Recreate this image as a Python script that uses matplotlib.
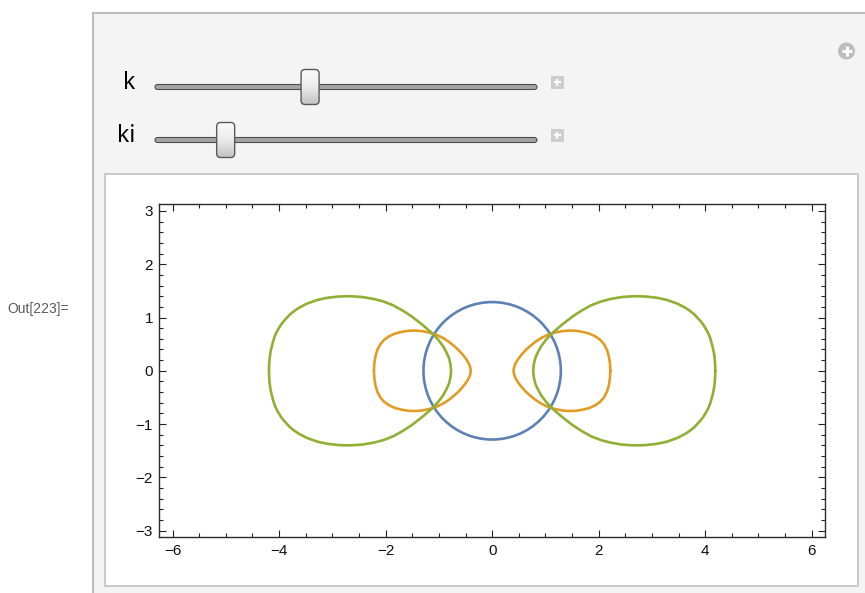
import numpy as np
import matplotlib.pyplot as plt
from matplotlib.colors import LinearSegmentedColormap
from matplotlib.patches import Circle, FancyBboxPatch, Rectangle
from matplotlib.ticker import MultipleLocator

plt.rcParams['font.family'] = ['Liberation Sans', 'DejaVu Sans']

# curves (data units)
circle_center = (0.0, 0.0)
circle_radius = 1.29

green_left_x = [-4.19, -4.187, -4.178, -4.162, -4.14, -4.095, -4.06, -4.02, -3.965, -3.91,
                -3.80, -3.72, -3.64, -3.49, -3.29, -3.08, -2.87, -2.66, -2.44, -2.23,
                -2.04, -1.86, -1.68, -1.51, -1.305, -1.11, -1.01, -0.92, -0.86, -0.81,
                -0.782, -0.77,
                -0.782, -0.81, -0.86, -0.92, -1.01, -1.11, -1.305, -1.51, -1.68, -1.86,
                -2.04, -2.23, -2.44, -2.66, -2.87, -3.08, -3.29, -3.49, -3.64, -3.72,
                -3.80, -3.91, -3.965, -4.02, -4.06, -4.095, -4.14, -4.162, -4.178, -4.187,
                -4.19]
green_left_y = [0.00, 0.12, 0.24, 0.35, 0.45, 0.61, 0.70, 0.775, 0.865, 0.935,
                1.055, 1.12, 1.175, 1.255, 1.328, 1.373, 1.395, 1.40, 1.385, 1.35,
                1.30, 1.23, 1.13, 1.02, 0.86, 0.69, 0.58, 0.46, 0.35, 0.24,
                0.12, 0.00,
                -0.12, -0.24, -0.35, -0.46, -0.58, -0.69, -0.86, -1.02, -1.13, -1.23,
                -1.30, -1.35, -1.385, -1.40, -1.395, -1.373, -1.328, -1.255, -1.175, -1.12,
                -1.055, -0.935, -0.865, -0.775, -0.70, -0.61, -0.45, -0.35, -0.24, -0.12,
                0.00]

green_right_x = [4.19, 4.187, 4.178, 4.162, 4.14, 4.095, 4.06, 4.02, 3.965, 3.91,
                 3.80, 3.72, 3.64, 3.49, 3.29, 3.08, 2.87, 2.66, 2.44, 2.23,
                 2.04, 1.86, 1.68, 1.51, 1.305, 1.11, 1.01, 0.92, 0.86, 0.81,
                 0.782, 0.77,
                 0.782, 0.81, 0.86, 0.92, 1.01, 1.11, 1.305, 1.51, 1.68, 1.86,
                 2.04, 2.23, 2.44, 2.66, 2.87, 3.08, 3.29, 3.49, 3.64, 3.72,
                 3.80, 3.91, 3.965, 4.02, 4.06, 4.095, 4.14, 4.162, 4.178, 4.187,
                 4.19]
green_right_y = [0.00, 0.12, 0.24, 0.35, 0.45, 0.61, 0.70, 0.775, 0.865, 0.935,
                 1.055, 1.12, 1.175, 1.255, 1.328, 1.373, 1.395, 1.40, 1.385, 1.35,
                 1.30, 1.23, 1.13, 1.02, 0.86, 0.69, 0.58, 0.46, 0.35, 0.24,
                 0.12, 0.00,
                 -0.12, -0.24, -0.35, -0.46, -0.58, -0.69, -0.86, -1.02, -1.13, -1.23,
                 -1.30, -1.35, -1.385, -1.40, -1.395, -1.373, -1.328, -1.255, -1.175, -1.12,
                 -1.055, -0.935, -0.865, -0.775, -0.70, -0.61, -0.45, -0.35, -0.24, -0.12,
                 0.00]

orange_left_x = [-2.22, -2.212, -2.19, -2.155, -2.10, -2.025, -1.93, -1.82, -1.70, -1.565,
                 -1.43, -1.30, -1.17, -1.045, -0.93, -0.82, -0.72, -0.63, -0.55, -0.49,
                 -0.44, -0.413, -0.40,
                 -0.413, -0.44, -0.49, -0.55, -0.63, -0.72, -0.82, -0.93, -1.045, -1.17,
                 -1.30, -1.43, -1.565, -1.70, -1.82, -1.93, -2.025, -2.10, -2.155, -2.19,
                 -2.212, -2.22]
orange_left_y = [0.00, 0.14, 0.28, 0.395, 0.50, 0.585, 0.65, 0.70, 0.73, 0.752,
                 0.755, 0.742, 0.715, 0.675, 0.62, 0.55, 0.47, 0.39, 0.30, 0.222,
                 0.14, 0.07, 0.00,
                 -0.07, -0.14, -0.222, -0.30, -0.39, -0.47, -0.55, -0.62, -0.675, -0.715,
                 -0.742, -0.755, -0.752, -0.73, -0.70, -0.65, -0.585, -0.50, -0.395, -0.28,
                 -0.14, 0.00]

orange_right_x = [2.22, 2.212, 2.19, 2.155, 2.10, 2.025, 1.93, 1.82, 1.70, 1.565,
                  1.43, 1.30, 1.17, 1.045, 0.93, 0.82, 0.72, 0.63, 0.55, 0.49,
                  0.44, 0.413, 0.40,
                  0.413, 0.44, 0.49, 0.55, 0.63, 0.72, 0.82, 0.93, 1.045, 1.17,
                  1.30, 1.43, 1.565, 1.70, 1.82, 1.93, 2.025, 2.10, 2.155, 2.19,
                  2.212, 2.22]
orange_right_y = [0.00, 0.14, 0.28, 0.395, 0.50, 0.585, 0.65, 0.70, 0.73, 0.752,
                  0.755, 0.742, 0.715, 0.675, 0.62, 0.55, 0.47, 0.39, 0.30, 0.222,
                  0.14, 0.07, 0.00,
                  -0.07, -0.14, -0.222, -0.30, -0.39, -0.47, -0.55, -0.62, -0.675, -0.715,
                  -0.742, -0.755, -0.752, -0.73, -0.70, -0.65, -0.585, -0.50, -0.395, -0.28,
                  -0.14, 0.00]

# slider controls: label and thumb position along the track (0..1)
slider_names = ['k', 'ki']
slider_pos = [0.406, 0.185]

BLUE = '#5e81b5'
ORANGE = '#e19c24'
GREEN = '#8fb032'
LW = 1.9

W, H = 865, 593
fig = plt.figure(figsize=(W / 100, H / 100), dpi=100)
fig.patch.set_facecolor('white')

# pixel-space layer for the panel chrome
bg = fig.add_axes([0, 0, 1, 1], zorder=0)
bg.set_xlim(0, W)
bg.set_ylim(H, 0)
bg.axis('off')

bg.add_patch(Rectangle((92.5, 13), 820, 620, facecolor='#f4f4f4',
                       edgecolor='#bcbcbc', lw=1.5))
bg.add_patch(Rectangle((104.5, 173.5), 753.5, 412, facecolor='white',
                       edgecolor='#c8c8c8', lw=1.4))

bg.text(7, 313.5, 'Out[223]=', fontsize=10, color='#5a5a5a',
        ha='left', va='baseline')

# circled plus in the corner
bg.add_patch(Circle((846.5, 51), 8.5, facecolor='#bdbdbd', edgecolor='none'))
bg.plot([841.5, 851.5], [51, 51], color='white', lw=2.2, solid_capstyle='butt')
bg.plot([846.5, 846.5], [46, 56], color='white', lw=2.2, solid_capstyle='butt')

track_x0, track_x1 = 155, 537
track_y = [87, 140]
label_base = [89.3, 141.7]
thumb_w, thumb_h = 18, 35
grad = np.linspace(0, 1, 64).reshape(-1, 1)
thumb_cmap = LinearSegmentedColormap.from_list('thumb', ['#fbfbfb', '#ececec', '#c4c4c4'])
for name, pos, ty, lb in zip(slider_names, slider_pos, track_y, label_base):
    bg.text(135, lb, name, fontsize=16.5, family='Noto Sans', color='black',
            ha='right', va='baseline')
    bg.add_patch(FancyBboxPatch((track_x0, ty - 2.5), track_x1 - track_x0, 5,
                                boxstyle='round,pad=0,rounding_size=2.5',
                                facecolor='#a4a4a4', edgecolor='#4d4d4d', lw=0.8))
    cx = track_x0 + pos * (track_x1 - track_x0)
    tx0, ty0 = cx - thumb_w / 2, ty - thumb_h / 2
    thumb = FancyBboxPatch((tx0, ty0), thumb_w, thumb_h,
                           boxstyle='round,pad=0,rounding_size=4',
                           facecolor='none', edgecolor='#5a5a5a', lw=1.0, zorder=3)
    bg.add_patch(thumb)
    img = bg.imshow(grad, extent=(tx0, tx0 + thumb_w, ty0 + thumb_h, ty0),
                    origin='upper', cmap=thumb_cmap, aspect='auto', zorder=2)
    img.set_clip_path(thumb)
    # small plus box to the right of the slider
    bg.add_patch(Rectangle((551, ty - 11), 12.5, 12.5, facecolor='#cdcdcd',
                           edgecolor='none'))
    bg.plot([553.5, 560.5], [ty - 4.75, ty - 4.75], color='white', lw=1.6,
            solid_capstyle='butt')
    bg.plot([557.25, 557.25], [ty - 8.5, ty - 1.0], color='white', lw=1.6,
            solid_capstyle='butt')

bg.set_xlim(0, W)
bg.set_ylim(H, 0)

# the plot itself
ax = fig.add_axes([159.3 / W, (H - 537.3) / H, 665.7 / W, 333 / H], zorder=1)
ax.set_facecolor('none')
ax.add_patch(Circle(circle_center, circle_radius, facecolor='none',
                    edgecolor=BLUE, lw=LW))
line_kw = dict(lw=LW, solid_joinstyle='round', solid_capstyle='round')
ax.plot(orange_left_x, orange_left_y, color=ORANGE, **line_kw)
ax.plot(orange_right_x, orange_right_y, color=ORANGE, **line_kw)
ax.plot(green_left_x, green_left_y, color=GREEN, **line_kw)
ax.plot(green_right_x, green_right_y, color=GREEN, **line_kw)

ax.set_xlim(-6.25, 6.25)
ax.set_ylim(-3.125, 3.125)
ax.xaxis.set_major_locator(MultipleLocator(2))
ax.xaxis.set_minor_locator(MultipleLocator(0.5))
ax.yaxis.set_major_locator(MultipleLocator(1))
ax.yaxis.set_minor_locator(MultipleLocator(0.2))
ax.tick_params(which='both', direction='in', top=True, right=True,
               color='#222222', width=0.8)
ax.tick_params(which='major', length=5, pad=4.5, labelsize=11, labelcolor='#111111')
ax.tick_params(which='minor', length=3)
for sp in ax.spines.values():
    sp.set_color('#2a2a2a')
    sp.set_linewidth(1.0)

fig.savefig('out.png', dpi=100, facecolor='white')
